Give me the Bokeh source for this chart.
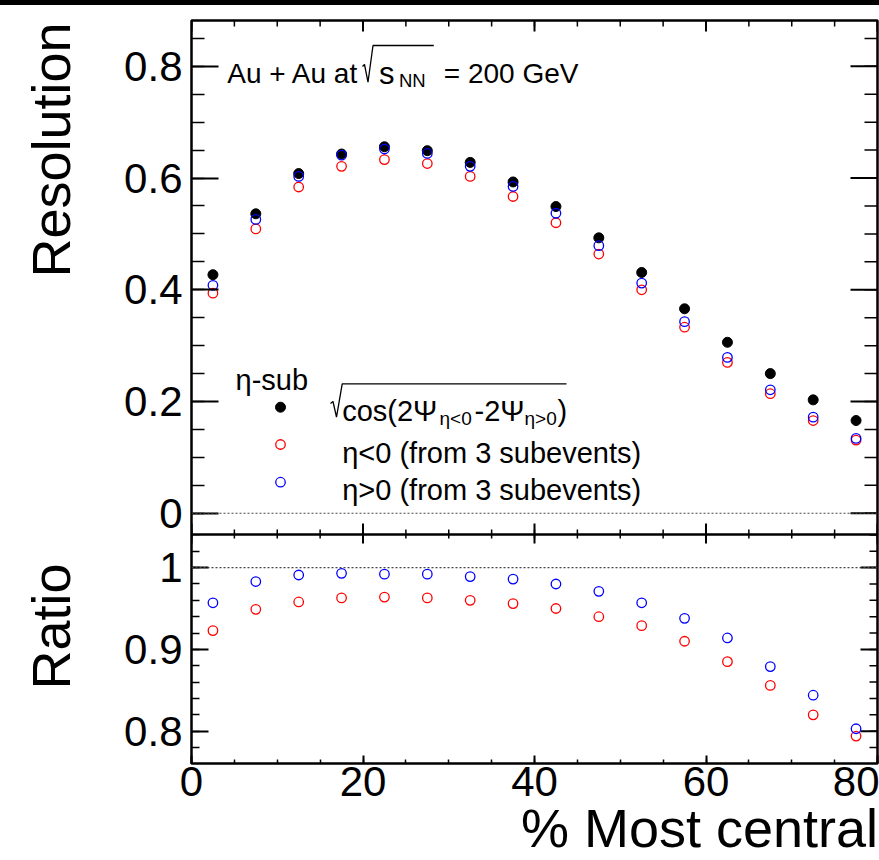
from bokeh.plotting import figure
from bokeh.models import LinearAxis, FixedTicker, Span, Label, Div, Range1d
from bokeh.layouts import column
from bokeh.embed import file_html
from bokeh.resources import INLINE

# ---------------- data ----------------
centrality = [2.5, 7.5, 12.5, 17.5, 22.5, 27.5, 32.5, 37.5,
              42.5, 47.5, 52.5, 57.5, 62.5, 67.5, 72.5, 77.5]
res_full = [0.427, 0.536, 0.608, 0.643, 0.656, 0.649, 0.628, 0.593,
            0.549, 0.493, 0.431, 0.366, 0.306, 0.250, 0.203, 0.166]
res_neg = [0.394, 0.509, 0.584, 0.621, 0.633, 0.626, 0.603, 0.567,
           0.520, 0.464, 0.400, 0.333, 0.270, 0.214, 0.166, 0.131]
res_pos = [0.408, 0.526, 0.603, 0.641, 0.652, 0.644, 0.621, 0.585,
           0.537, 0.479, 0.412, 0.343, 0.279, 0.221, 0.172, 0.134]
ratio_neg = [0.923, 0.949, 0.958, 0.963, 0.964, 0.963, 0.960, 0.956,
             0.950, 0.940, 0.929, 0.910, 0.885, 0.856, 0.820, 0.794]
ratio_pos = [0.957, 0.983, 0.991, 0.993, 0.992, 0.992, 0.989, 0.986,
             0.980, 0.971, 0.957, 0.938, 0.914, 0.879, 0.844, 0.803]

x_major = [0, 20, 40, 60, 80]
x_minor = [0, 5, 10, 15, 20, 25, 30, 35, 40, 45, 50, 55, 60, 65, 70, 75, 80]
res_major = [0.0, 0.2, 0.4, 0.6, 0.8]
res_minor = [0.0, 0.05, 0.1, 0.15, 0.2, 0.25, 0.3, 0.35, 0.4, 0.45,
             0.5, 0.55, 0.6, 0.65, 0.7, 0.75, 0.8, 0.85]
ratio_major = [0.8, 0.9, 1.0]
ratio_minor = [0.76, 0.78, 0.8, 0.82, 0.84, 0.86, 0.88, 0.9, 0.92, 0.94,
               0.96, 0.98, 1.0, 1.02, 1.04]

x_title = "% Most central"
top_title = "Resolution"
bottom_title = "Ratio"
label_full_a = "cos(2Ψ"
label_full_sub1 = "η<0"
label_full_b = "-2Ψ"
label_full_sub2 = "η>0"
label_full_c = ")"
label_neg = "η<0 (from 3 subevents)"
label_pos = "η>0 (from 3 subevents)"
legend_head = "η-sub"

# ---------------- layout constants (page pixels) ----------------
FONT = "Liberation Sans"
NBSP = "\u00a0"          # leading padding shifts a centred axis title
PAGE_W = 879
BAND_H = 5
FRAME_L, FRAME_R = 191, 877
TOP_T, SPLIT, BOT_B = 20, 534, 764
PAGE_B = 860
OVERLAP = 6
X_LO, X_HI = 0, 80
RES_LO, RES_HI = -0.038, 0.882
RAT_LO, RAT_HI = 0.7605, 1.0405
RED = "#ff0000"
BLUE = "#0000ff"

XPP = (X_HI - X_LO) / (FRAME_R - FRAME_L)          # data per px (x)
TPP = (RES_HI - RES_LO) / (SPLIT - TOP_T)          # data per px (top y)
BPP = (RAT_HI - RAT_LO) / (BOT_B - SPLIT)          # data per px (ratio y)


def X(px):
    return X_LO + (px - FRAME_L) * XPP


def Yt(py):
    return RES_HI - (py - TOP_T) * TPP


def Yb(py):
    return RAT_HI - (py - SPLIT) * BPP


def make_fig(height, y_lo, y_hi, border_top, border_bottom, margin=0):
    p = figure(width=PAGE_W, height=height,
               x_range=Range1d(X_LO, X_HI), y_range=Range1d(y_lo, y_hi),
               output_backend="svg", toolbar_location=None,
               x_axis_location=None, y_axis_location=None,
               min_border_left=FRAME_L,
               min_border_right=PAGE_W - FRAME_R,
               min_border_top=border_top, min_border_bottom=border_bottom,
               margin=margin)
    p.grid.visible = False
    p.outline_line_color = "black"
    p.outline_line_width = 2.5
    p.background_fill_color = "white"
    p.border_fill_color = "white"
    return p


def labelled_axis(p, side, major, minor, major_in, minor_in, standoff,
                  title, title_standoff, overrides=None):
    ax = LinearAxis(ticker=FixedTicker(ticks=major, minor_ticks=minor))
    ax.axis_line_color = None
    ax.major_tick_in = major_in
    ax.major_tick_out = 0
    ax.minor_tick_in = minor_in
    ax.minor_tick_out = 0
    ax.major_tick_line_color = "black"
    ax.major_tick_line_width = 2
    ax.minor_tick_line_color = "black"
    ax.minor_tick_line_width = 1.5
    ax.major_label_text_font = FONT
    ax.major_label_text_font_size = "42px"
    ax.major_label_text_color = "black"
    ax.major_label_standoff = standoff
    if overrides:
        ax.major_label_overrides = overrides
    ax.axis_label = title
    ax.axis_label_text_font = FONT
    ax.axis_label_text_font_size = "54px"
    ax.axis_label_text_font_style = "normal"
    ax.axis_label_text_color = "black"
    ax.axis_label_standoff = title_standoff
    p.add_layout(ax, side)
    return ax


def edge_ticks_x(p, values, y_edge, length_px, sign, ypp, width):
    """vertical tick marks along a horizontal frame edge"""
    n = len(values)
    p.segment(x0=values, y0=[y_edge] * n, x1=values,
              y1=[y_edge + sign * length_px * ypp] * n,
              line_color="black", line_width=width)


def edge_ticks_y(p, values, length_px, width):
    """horizontal tick marks along the right frame edge"""
    n = len(values)
    p.segment(x0=[X_HI] * n, y0=values, x1=[X_HI - length_px * XPP] * n,
              y1=values, line_color="black", line_width=width)


def txt(p, text, px, py, size, yfun, align="left"):
    p.add_layout(Label(x=X(px), y=yfun(py), text=text, text_font=FONT,
                       text_font_size=size, text_color="black",
                       text_align=align, text_baseline="alphabetic"))


def radical(p, pts, yfun):
    p.line([X(a) for a, b in pts], [yfun(b) for a, b in pts],
           line_color="black", line_width=1.3)


# ---------------- top panel ----------------
top = make_fig(SPLIT - BAND_H + OVERLAP, RES_LO, RES_HI, TOP_T - BAND_H,
               OVERLAP)
labelled_axis(top, "left", res_major, res_minor, 27, 13, 9,
              NBSP * 17 + top_title, 40,
              overrides={v: f"{v:g}" for v in res_major})
edge_ticks_y(top, res_minor, 13, 1.5)
edge_ticks_y(top, res_major, 27, 2)
edge_ticks_x(top, x_minor, RES_HI, 6, -1, TPP, 1.5)
edge_ticks_x(top, x_major, RES_HI, 11, -1, TPP, 2)
edge_ticks_x(top, x_minor, RES_LO, 5, 1, TPP, 1.5)
edge_ticks_x(top, x_major, RES_LO, 11, 1, TPP, 2)

top.add_layout(Span(location=0, dimension="width", line_color="#444444",
                    line_width=1.2, line_dash="2 2"))

top.scatter(centrality, res_full, marker="circle", size=10,
            fill_color="black", line_color="black")
top.scatter(centrality, res_neg, marker="circle", size=9.5,
            fill_color=None, line_color=RED, line_width=1.3)
top.scatter(centrality, res_pos, marker="circle", size=9.5,
            fill_color=None, line_color=BLUE, line_width=1.3)

# system label
txt(top, "Au + Au at", 226.7, 73.3, "28px", Yt)
radical(top, [(362, 66), (364, 64), (367.5, 81.7), (372.5, 45),
              (433.3, 45)], Yt)
txt(top, "s", 378.5, 73.3, "31px", Yt)
txt(top, "NN", 398.5, 80, "18.5px", Yt)
txt(top, "= 200 GeV", 443.3, 73.3, "28px", Yt)

# legend
txt(top, legend_head, 235, 379, "29px", Yt)
top.scatter([X(280)], [Yt(406.7)], marker="circle", size=10,
            fill_color="black", line_color="black")
top.scatter([X(280)], [Yt(444)], marker="circle", size=9.5,
            fill_color=None, line_color=RED, line_width=1.3)
top.scatter([X(280)], [Yt(481.7)], marker="circle", size=9.5,
            fill_color=None, line_color=BLUE, line_width=1.3)
radical(top, [(330, 403), (332.5, 401), (336, 416.7), (341.7, 383.3),
              (566, 383.3)], Yt)
txt(top, label_full_a, 341.7, 410, "29px", Yt)
txt(top, label_full_sub1, 439, 418, "19px", Yt)
txt(top, label_full_b, 474, 410, "29px", Yt)
txt(top, label_full_sub2, 524, 418, "19px", Yt)
txt(top, label_full_c, 557, 410, "29px", Yt)
txt(top, label_neg, 341.7, 452, "29px", Yt)
txt(top, label_pos, 341.7, 489.7, "29px", Yt)

# ---------------- ratio panel ----------------
bot = make_fig(PAGE_B - SPLIT, RAT_LO, RAT_HI, 0, PAGE_B - BOT_B,
               margin=(-OVERLAP, 0, 0, 0))
labelled_axis(bot, "left", ratio_major, ratio_minor, 17, 8, 9,
              NBSP * 3 + bottom_title, 40,
              overrides={v: f"{v:g}" for v in ratio_major})
labelled_axis(bot, "below", x_major, x_minor, 8, 4, 3,
              NBSP * 22 + x_title, -1)
edge_ticks_y(bot, ratio_minor, 8, 1.5)
edge_ticks_y(bot, ratio_major, 17, 2)
edge_ticks_x(bot, x_minor, RAT_HI, 4, -1, BPP, 1.5)
edge_ticks_x(bot, x_major, RAT_HI, 9, -1, BPP, 2)

bot.add_layout(Span(location=1, dimension="width", line_color="#444444",
                    line_width=1.2, line_dash="2 2"))

bot.scatter(centrality, ratio_neg, marker="circle", size=9.5,
            fill_color=None, line_color=RED, line_width=1.3)
bot.scatter(centrality, ratio_pos, marker="circle", size=9.5,
            fill_color=None, line_color=BLUE, line_width=1.3)

band = Div(text="", width=PAGE_W, height=BAND_H, margin=0,
           styles={"background-color": "black"})

layout = column(band, top, bot, spacing=0)

open("out.html", "w").write(file_html(layout, INLINE))
